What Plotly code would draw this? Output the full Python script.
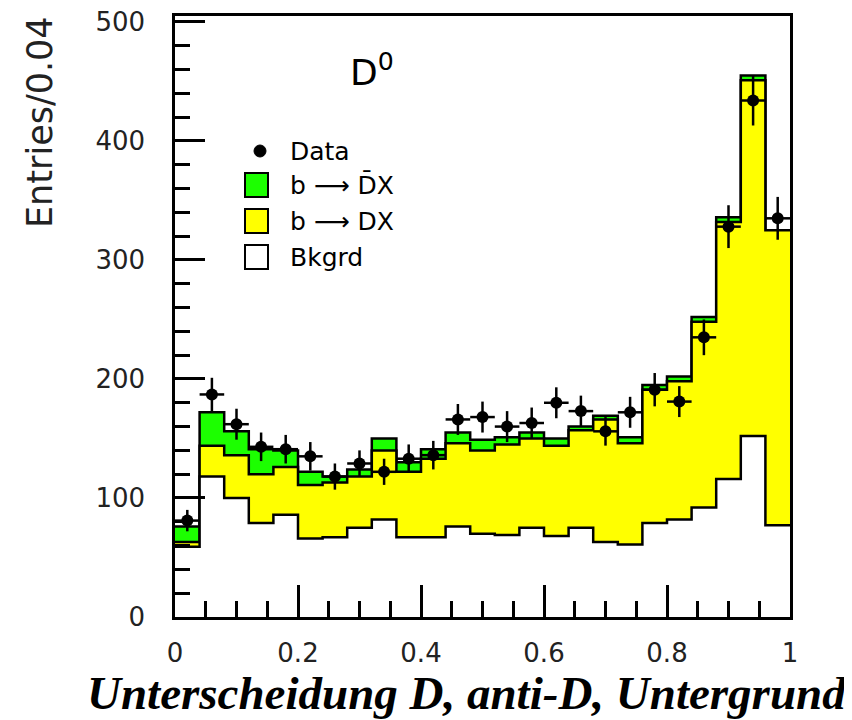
import numpy as np
import plotly.graph_objects as go

# 25 bins of width 0.04 between 0 and 1
bin_width = 0.04
n_bins = 25

# stacked components (entries per bin)
bkgrd = [59, 118, 100, 79, 86, 66, 67, 75, 82, 67, 67, 76, 70, 69, 75, 68, 75, 63, 61, 79, 82, 92, 116, 152, 77]
b_to_dx = [4, 26, 36, 41, 40, 45, 46, 43, 58, 55, 66, 70, 70, 76, 75, 76, 82, 103, 85, 112, 116, 156, 216, 299, 248]
b_to_dbarx = [13, 28, 20, 21, 14, 11, 5, 6, 10, 8, 8, 9, 9, 6, 5, 6, 3, 3, 5, 4, 4, 4, 4, 4, 0]

data = [81, 187, 162, 143, 141, 135, 118, 129, 122, 133, 136, 166, 168, 160, 163, 180, 173, 156, 172, 191, 181, 235, 328, 434, 335]
data_err = [9, 14, 13, 12, 12, 12, 11, 11, 11, 12, 12, 13, 13, 13, 13, 13, 13, 12, 13, 14, 13, 15, 18, 21, 18]

GREEN = "#1cff00"
YELLOW = "#ffff00"
FONT = "DejaVu Sans"

edges = np.arange(n_bins + 1) * bin_width
centers = edges[:-1] + bin_width / 2
level_bkg = np.array(bkgrd)
level_dx = level_bkg + np.array(b_to_dx)
level_all = level_dx + np.array(b_to_dbarx)


def step(levels):
    return list(levels) + [levels[-1]]


fig = go.Figure()
for name, levels, color in [("b → D̄X", level_all, GREEN),
                            ("b → DX", level_dx, YELLOW),
                            ("Bkgrd", level_bkg, "white")]:
    fig.add_trace(go.Scatter(x=edges, y=step(levels), mode="lines", line_shape="hv",
                             line=dict(color="black", width=2.5), fill="tozeroy",
                             fillcolor=color, name=name, showlegend=False))

fig.add_trace(go.Scatter(x=centers, y=data, mode="markers", name="Data", showlegend=False,
                         marker=dict(color="black", size=12),
                         error_y=dict(type="data", array=data_err, color="black", thickness=2.5, width=0),
                         error_x=dict(type="constant", value=bin_width / 2, color="black", thickness=2.5, width=0)))

# plot area as seen in the picture: x 175..790, y 16..617 (page adds an 8 px body margin)
L, R, T, B = 175, 790, 16, 617
OFF = 8
W, H = 852 - OFF, 720 - OFF
def px(x):
    return (x - L) / (R - L)
def py(y):
    return (B - y) / (B - T)

shapes = []
# legend swatches
shapes.append(dict(type="circle", xref="paper", yref="paper", x0=px(254), x1=px(266), y0=py(157), y1=py(145),
                   fillcolor="black", line=dict(color="black", width=1)))
for y0, color in [(173, GREEN), (209, YELLOW), (245, "white")]:
    shapes.append(dict(type="rect", xref="paper", yref="paper", x0=px(245), x1=px(268), y0=py(y0 + 24), y1=py(y0),
                       fillcolor=color, line=dict(color="black", width=2)))
# the original cuts the x tick labels off at the bottom
shapes.append(dict(type="rect", xref="paper", yref="paper", x0=-0.5, x1=1.2, y0=py(730), y1=py(662),
                   fillcolor="white", line=dict(width=0), layer="above"))

annotations = []
for text, yc in [("Data", 151), ("b ⟶ D̄X", 185), ("b ⟶ DX", 221), ("Bkgrd", 257)]:
    annotations.append(dict(text=text, xref="paper", yref="paper", x=px(288), y=py(yc), xanchor="left",
                            yanchor="middle", showarrow=False, font=dict(family=FONT, size=25, color="black")))
annotations.append(dict(text="D<sup>0</sup>", xref="paper", yref="paper", x=px(348), y=py(70), xanchor="left",
                        yanchor="middle", showarrow=False, font=dict(family=FONT, size=36, color="black")))
annotations.append(dict(text="Entries/0.04", xref="paper", yref="paper", x=px(40), y=py(14), textangle=-90,
                        xanchor="center", yanchor="top", showarrow=False,
                        font=dict(family=FONT, size=35, color="#222")))
annotations.append(dict(text="<b><i>Unterscheidung D, anti-D, Untergrund</i></b>", xref="paper", yref="paper",
                        x=px(467), y=py(693), xanchor="center", yanchor="middle", showarrow=False,
                        font=dict(family="Liberation Serif", size=47, color="black")))

fig.update_layout(
    template="none",
    width=W, height=H, margin=dict(l=L - OFF, r=W - (R - OFF), t=T - OFF, b=H - (B - OFF), pad=0),
    plot_bgcolor="white", paper_bgcolor="white", showlegend=False,
    shapes=shapes, annotations=annotations,
)
fig.update_xaxes(range=[0, 1], dtick=0.2, tick0=0, ticks="inside", ticklen=32, tickwidth=2.5, tickcolor="black",
                 showline=True, linecolor="black", linewidth=2.5, mirror=True, showgrid=False, zeroline=False,
                 automargin=False, tickangle=0, ticklabelstandoff=11, ticklabeloverflow="allow",
                 tickfont=dict(family=FONT, size=26, color="#222"),
                 minor=dict(dtick=0.05, ticks="inside", ticklen=16, tickwidth=2.5, tickcolor="black", showgrid=False))
fig.update_yaxes(range=[0, 505], dtick=100, tick0=0, ticks="inside", ticklen=30, tickwidth=2.5, tickcolor="black",
                 showline=True, linecolor="black", linewidth=2.5, mirror=True, showgrid=False, zeroline=False,
                 automargin=False, ticklabelstandoff=22, ticklabeloverflow="allow",
                 tickfont=dict(family=FONT, size=26, color="#222"),
                 minor=dict(dtick=20, ticks="inside", ticklen=15, tickwidth=2.5, tickcolor="black", showgrid=False))

fig.write_html("out.html")
